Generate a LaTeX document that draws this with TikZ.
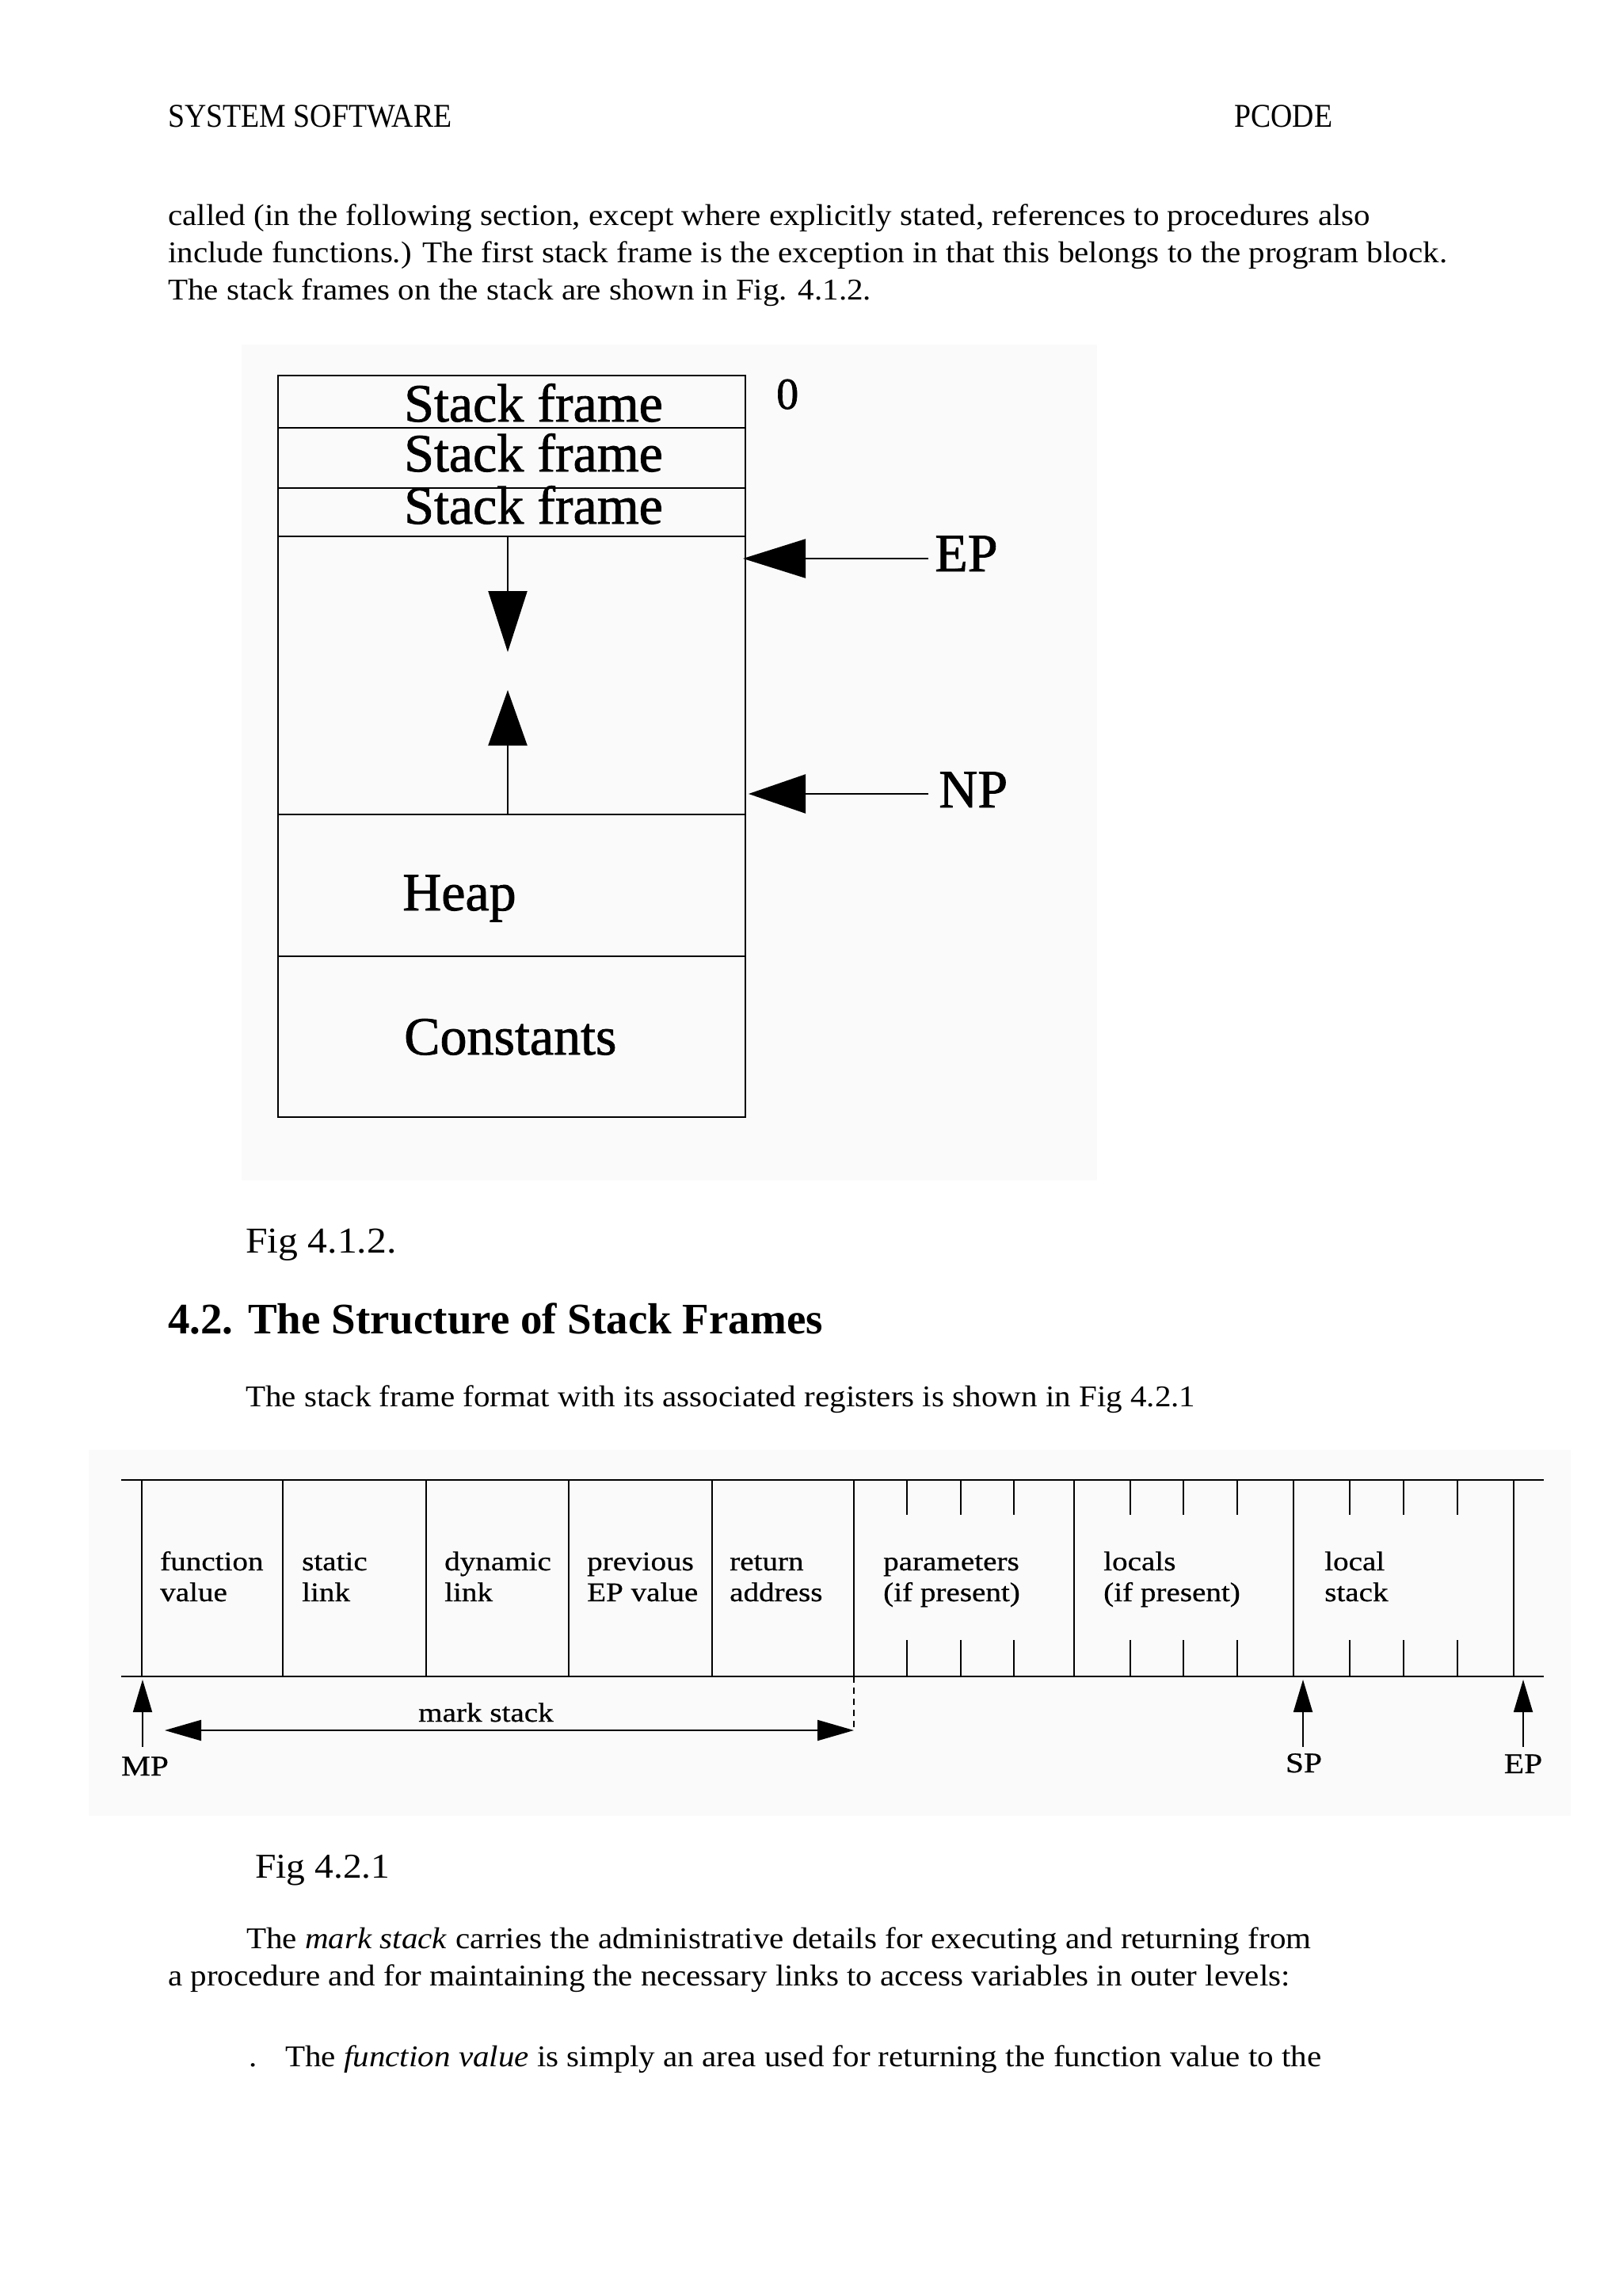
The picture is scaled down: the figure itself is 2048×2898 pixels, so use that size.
\documentclass[tikz,border=0pt]{standalone}
\usepackage{fontspec}
\setmainfont{Liberation Serif}
\newfontfamily\bodyfont[FakeStretch=1.08]{Liberation Serif}
\newfontfamily\hdrfont[FakeStretch=0.9]{Liberation Serif}
\newfontfamily\figfont[FakeStretch=1.15,FakeBold=0.6]{Liberation Serif}
\newfontfamily\figbigfont[FakeBold=1.2]{Liberation Serif}
\usetikzlibrary{arrows.meta}
\definecolor{figbg}{RGB}{250,250,250}
\begin{document}
\begin{tikzpicture}[x=1pt,y=-1pt,
  body/.style={anchor=base west, inner sep=0pt, font=\bodyfont\fontsize{38}{46}\selectfont},
  capt/.style={anchor=base west, inner sep=0pt, font=\bodyfont\fontsize{#1}{50}\selectfont},
  headg/.style={anchor=base west, inner sep=0pt, font=\bfseries\fontsize{55}{60}\selectfont},
  hdr/.style={anchor=base west, inner sep=0pt, font=\hdrfont\fontsize{42}{50}\selectfont},
  big/.style={anchor=base west, inner sep=0pt, font=\figbigfont\fontsize{68}{72}\selectfont},
  lbl/.style={anchor=base west, inner sep=0pt, font=\figfont\fontsize{34}{39}\selectfont},
  reg/.style={anchor=base, inner sep=0pt, font=\figfont\fontsize{36}{40}\selectfont},
  boxline/.style={line width=2.5pt},
  hline/.style={line width=2.4pt},
  vline/.style={line width=1.8pt},
  bigtip/.style={-{Triangle[length=#1,width=49pt]}, line width=2.2pt},
  smalltip/.style={-{Triangle[length=41pt,width=24pt]}, line width=1.8pt},
  dimtip/.style={{Triangle[length=46pt,width=26pt]}-{Triangle[length=46pt,width=26pt]}, line width=2pt}
]
\useasboundingbox (0,0) rectangle (2048,2898);
\fill[white] (0,0) rectangle (2048,2898);

% ---------- page text ----------
\node[hdr] (h1) at (212,161) {SYSTEM SOFTWARE};
\node[hdr] (h2) at (1558,161) {PCODE};
\node[body] (t1) at (212,284) {called (in the following section, except where explicitly stated, references to procedures also};
\node[body] (t2) at (212,331) {include functions.) The first stack frame is the exception in that this belongs to the program block.};
\node[body] (t3) at (212,378) {The stack frames on the stack are shown in Fig. 4.1.2.};

% ---------- Fig 4.1.2 ----------
\fill[figbg] (305,435) rectangle (1385,1490);
\draw[boxline] (351,474) rectangle (941,1410);
\draw[boxline] (351,540) -- (941,540);
\draw[boxline] (351,616) -- (941,616);
\draw[boxline] (351,677) -- (941,677);
\draw[boxline] (351,1028) -- (941,1028);
\draw[boxline] (351,1207) -- (941,1207);
\node[big] (sf1) at (510,532) {Stack frame};
\node[big] (sf2) at (510,595) {Stack frame};
\node[big] (sf3) at (510,661) {Stack frame};
\node[big] (heap) at (508,1149) {Heap};
\node[big] (const) at (510,1331) {Constants};
\node[anchor=base west, inner sep=0pt, font=\figbigfont\fontsize{56}{60}\selectfont] (zero) at (980,516) {0};
\node[big] (ep1) at (1180,721) {EP};
\node[big] (np1) at (1185,1019) {NP};
\coordinate (dn0) at (641,677);
\coordinate (dn1) at (641,823);
\coordinate (up0) at (641,1028);
\coordinate (up1) at (641,871);
\coordinate (eptip) at (938,705);
\coordinate (nptip) at (945,1002);
\draw[bigtip=77pt] (dn0) -- (dn1);
\draw[bigtip=70pt] (up0) -- (up1);
\draw[bigtip=79pt] (ep1.west |- eptip) ++(-8,0) -- (eptip);
\draw[bigtip=72pt] (np1.west |- nptip) ++(-13,0) -- (nptip);

\node[capt=46] (c1) at (310,1581) {Fig 4.1.2.};
\node[headg] (sec) at (212,1683) {4.2. The Structure of Stack Frames};
\node[body] (t4) at (310,1775) {The stack frame format with its associated registers is shown in Fig 4.2.1};

% ---------- Fig 4.2.1 ----------
\fill[figbg] (112,1830) rectangle (1983,2292);
\draw[hline] (153,1868) -- (1949,1868);
\draw[hline] (153,2116) -- (1949,2116);
\foreach \x in {179,357,538,718,899,1078,1356,1633,1911}
  \draw[vline] (\x,1868) -- (\x,2116);
\foreach \x in {1145,1213,1280,1427,1494,1562,1704,1772,1840} {
  \draw[vline] (\x,1868) -- (\x,1912);
  \draw[vline] (\x,2070) -- (\x,2116);
}
\node[lbl] (fv1) at (202,1982) {function};
\node[lbl] (fv2) at (202,2021) {value};
\node[lbl] (sl1) at (381,1982) {static};
\node[lbl] (sl2) at (381,2021) {link};
\node[lbl] (dl1) at (561,1982) {dynamic};
\node[lbl] (dl2) at (561,2021) {link};
\node[lbl] (pe1) at (741,1982) {previous};
\node[lbl] (pe2) at (741,2021) {EP value};
\node[lbl] (ra1) at (921,1982) {return};
\node[lbl] (ra2) at (921,2021) {address};
\node[lbl] (pa1) at (1115,1982) {parameters};
\node[lbl] (pa2) at (1115,2021) {(if present)};
\node[lbl] (lo1) at (1393,1982) {locals};
\node[lbl] (lo2) at (1393,2021) {(if present)};
\node[lbl] (ls1) at (1672,1982) {local};
\node[lbl] (ls2) at (1672,2021) {stack};

\coordinate (msL) at (208,2184);
\coordinate (msR) at (1078,2184);
\coordinate (msTop) at (1078,2116);
\draw[vline, dash pattern=on 8pt off 6pt] (msTop) -- (msR);
\draw[dimtip] (msL) -- (msR);
\node[lbl] (ms) at (528,2173) {mark stack};

\node[reg] (mp) at (183,2241) {MP};
\node[reg] (sp) at (1646,2237) {SP};
\node[reg] (ep2) at (1923,2238) {EP};
\coordinate (mptip) at (180,2120);
\coordinate (sptip) at (1645,2120);
\coordinate (eptip2) at (1923,2120);
\draw[smalltip] (mptip |- 0,2205) -- (mptip);
\draw[smalltip] (sptip |- 0,2205) -- (sptip);
\draw[smalltip] (eptip2 |- 0,2205) -- (eptip2);

\node[capt=44] (c2) at (322,2370) {Fig 4.2.1};
\node[body] (t5) at (311,2459) {The \textit{mark stack} carries the administrative details for executing and returning from};
\node[body] (t6) at (212,2506) {a procedure and for maintaining the necessary links to access variables in outer levels:};
\node[body] (dot) at (314,2608) {.};
\node[body] (t7) at (360,2608) {The \textit{function value} is simply an area used for returning the function value to the};
\end{tikzpicture}
\end{document}
